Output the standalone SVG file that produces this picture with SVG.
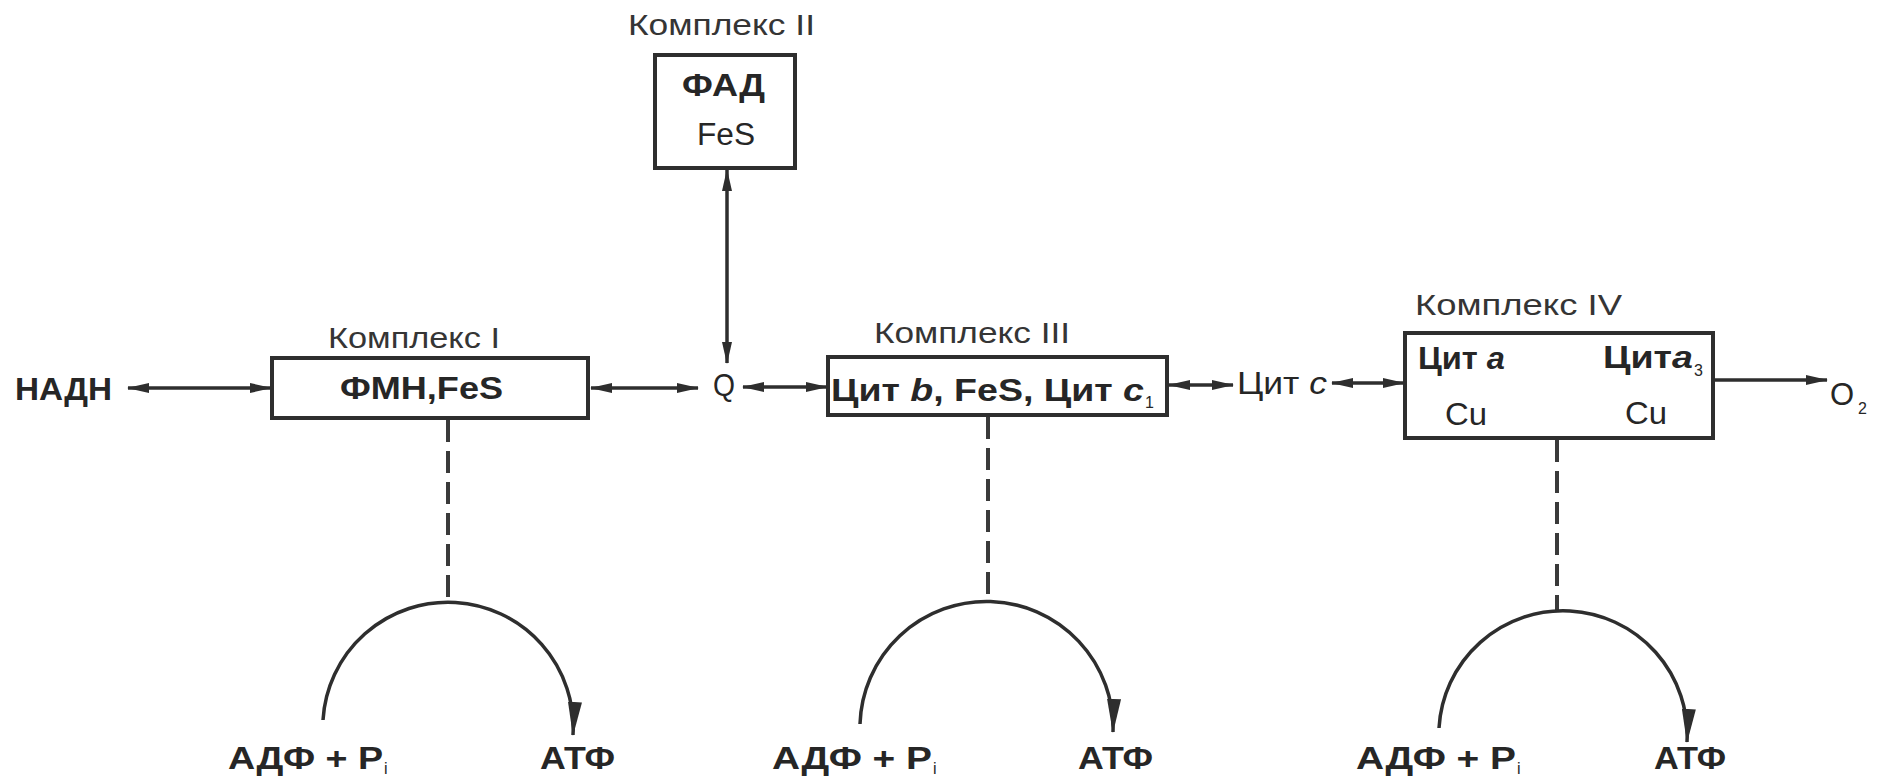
<svg xmlns="http://www.w3.org/2000/svg" width="1879" height="780" viewBox="0 0 1879 780">
<style>
text{font-family:"Liberation Sans",Arial,sans-serif;fill:#262626}
.b{font-weight:bold;font-size:31px}
.r{font-size:31px}
.lab{font-size:30px;fill:#353535}
.sub{font-size:16px}
.box{fill:#fff;stroke:#2e2e2e;stroke-width:4}
.ln{fill:none;stroke:#2e2e2e;stroke-width:3.5}
.dash{fill:none;stroke:#3a3a3a;stroke-width:4;stroke-dasharray:22 9}
</style>
<defs>
<marker id="ah" viewBox="0 0 22 11" refX="21" refY="5.5" markerWidth="22" markerHeight="11" markerUnits="userSpaceOnUse" orient="auto-start-reverse">
<path d="M0,0.5 L22,5.5 L0,10.5 z" fill="#2e2e2e"/>
</marker>
<marker id="big" viewBox="0 0 34 14" refX="33" refY="7" markerWidth="34" markerHeight="14" markerUnits="userSpaceOnUse" orient="auto">
<path d="M0,0 L34,7 L0,14 z" fill="#2e2e2e"/>
</marker>
</defs>
<rect width="1879" height="780" fill="#fff"/>

<g id="connectors">
<line class="ln" x1="128" y1="388" x2="271" y2="388" marker-start="url(#ah)" marker-end="url(#ah)"/>
<line class="ln" x1="591" y1="388" x2="698" y2="388" marker-start="url(#ah)" marker-end="url(#ah)"/>
<line class="ln" x1="727" y1="170" x2="727" y2="363" marker-start="url(#ah)" marker-end="url(#ah)"/>
<line class="ln" x1="743" y1="387" x2="827" y2="387" marker-start="url(#ah)" marker-end="url(#ah)"/>
<line class="ln" x1="1169" y1="385" x2="1233" y2="385" marker-start="url(#ah)" marker-end="url(#ah)"/>
<line class="ln" x1="1332" y1="383" x2="1404" y2="383" marker-start="url(#ah)" marker-end="url(#ah)"/>
<line class="ln" x1="1715" y1="380" x2="1827" y2="380" marker-end="url(#ah)"/>
<line class="dash" x1="448" y1="420" x2="448" y2="603"/>
<line class="dash" x1="988" y1="417" x2="988" y2="602"/>
<line class="dash" x1="1557" y1="440" x2="1557" y2="612"/>
<path class="ln" d="M 323 720 A 125 125 0 0 1 573 735" marker-end="url(#big)"/>
<path class="ln" d="M 860 724 A 126 126 0 0 1 1113 732" marker-end="url(#big)"/>
<path class="ln" d="M 1439 728 A 124 124 0 0 1 1687 742" marker-end="url(#big)"/>
</g>

<g id="nadh"><text class="b" x="15" y="400" textLength="97" lengthAdjust="spacingAndGlyphs">НАДН</text></g>

<g id="complex1">
<text class="lab" x="328" y="348" textLength="172" lengthAdjust="spacingAndGlyphs">Комплекс I</text>
<rect class="box" x="272" y="358" width="316" height="60"/>
<text class="b" x="340" y="399" textLength="163" lengthAdjust="spacingAndGlyphs">ФМН,FeS</text>
</g>

<g id="complex2">
<text class="lab" x="628" y="35" textLength="187" lengthAdjust="spacingAndGlyphs">Комплекс  II</text>
<rect class="box" x="655" y="55" width="140" height="113"/>
<text class="b" x="682" y="96" textLength="83" lengthAdjust="spacingAndGlyphs">ФАД</text>
<text class="r" x="697" y="145" textLength="58" lengthAdjust="spacingAndGlyphs">FeS</text>
</g>

<g id="q"><text class="r" x="713" y="396" textLength="22" lengthAdjust="spacingAndGlyphs">Q</text></g>

<g id="complex3">
<text class="lab" x="874" y="343" textLength="196" lengthAdjust="spacingAndGlyphs">Комплекс  III</text>
<rect class="box" x="828" y="357" width="339" height="58"/>
<text class="b" x="831" y="401" textLength="313" lengthAdjust="spacingAndGlyphs">Цит <tspan font-style="italic">b</tspan>, FeS,  Цит <tspan font-style="italic">c</tspan></text>
<text class="sub" x="1145" y="408">1</text>
</g>

<g id="cytc"><text class="r" x="1237" y="394" textLength="90" lengthAdjust="spacingAndGlyphs">Цит <tspan font-style="italic">c</tspan></text></g>

<g id="complex4">
<text class="lab" x="1415" y="315" textLength="207" lengthAdjust="spacingAndGlyphs">Комплекс  IV</text>
<rect class="box" x="1405" y="333" width="308" height="105"/>
<text class="b" x="1418" y="369" textLength="87" lengthAdjust="spacingAndGlyphs">Цит <tspan font-style="italic">a</tspan></text>
<text class="b" x="1603" y="368" textLength="90" lengthAdjust="spacingAndGlyphs">Цит<tspan font-style="italic">a</tspan></text>
<text class="sub" x="1694" y="376" fill="#777">3</text>
<text class="r" x="1445" y="425" textLength="42" lengthAdjust="spacingAndGlyphs">Cu</text>
<text class="r" x="1625" y="424" textLength="42" lengthAdjust="spacingAndGlyphs">Cu</text>
</g>

<g id="o2">
<text class="r" x="1830" y="405">O</text>
<text class="sub" x="1858" y="414" font-size="19">2</text>
</g>

<g id="atp1">
<text class="b" x="228" y="769" textLength="155" lengthAdjust="spacingAndGlyphs">АДФ + P</text>
<text class="sub" x="384" y="774" font-size="13">i</text>
<text class="b" x="540" y="769" textLength="75" lengthAdjust="spacingAndGlyphs">АТФ</text>
</g>
<g id="atp3">
<text class="b" x="772" y="769" textLength="160" lengthAdjust="spacingAndGlyphs">АДФ + P</text>
<text class="sub" x="933" y="774" font-size="13">i</text>
<text class="b" x="1078" y="769" textLength="75" lengthAdjust="spacingAndGlyphs">АТФ</text>
</g>
<g id="atp4">
<text class="b" x="1356" y="769" textLength="160" lengthAdjust="spacingAndGlyphs">АДФ + P</text>
<text class="sub" x="1517" y="774" font-size="13">i</text>
<text class="b" x="1654" y="769" textLength="72" lengthAdjust="spacingAndGlyphs">АТФ</text>
</g>
</svg>
